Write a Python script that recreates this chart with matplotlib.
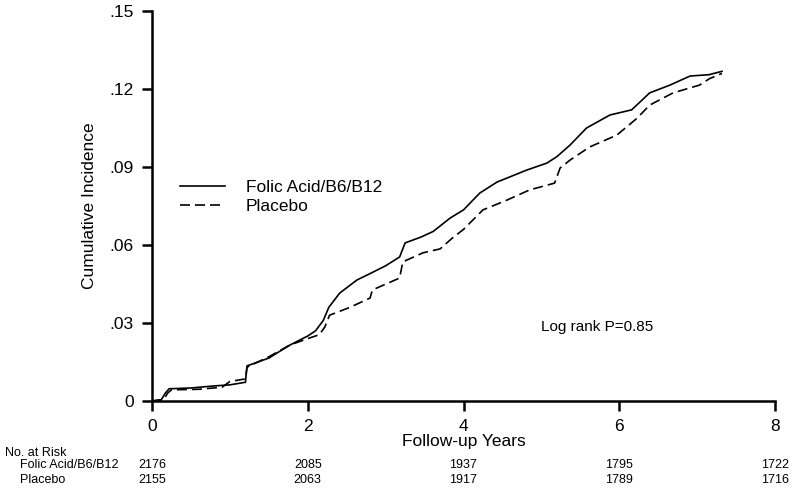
import matplotlib
matplotlib.use("Agg")
import matplotlib.pyplot as plt

plt.rcParams['font.family'] = ['Liberation Sans', 'DejaVu Sans']

# Cumulative incidence curves (years, incidence)
activeYears = [0, 0.12, 0.17, 0.22, 0.5, 0.8, 1.0, 1.2, 1.22, 1.5, 1.77, 2.0, 2.1, 2.2,
               2.27, 2.41, 2.63, 2.8, 3.0, 3.18, 3.25, 3.45, 3.61, 3.83, 4.0, 4.21, 4.43,
               4.81, 5.07, 5.2, 5.37, 5.58, 5.88, 6.16, 6.39, 6.65, 6.91, 7.15, 7.32]
activeInc = [0, 0.0005, 0.003, 0.0047, 0.005, 0.0058, 0.0062, 0.0072, 0.0135, 0.0165,
             0.0215, 0.025, 0.027, 0.031, 0.036, 0.0415, 0.0465, 0.049, 0.052, 0.0554,
             0.0608, 0.063, 0.0652, 0.0704, 0.0735, 0.080, 0.0842, 0.0888, 0.0915, 0.094,
             0.0985, 0.105, 0.110, 0.112, 0.1185, 0.1215, 0.125, 0.1255, 0.1268]

placeboYears = [0, 0.15, 0.2, 0.25, 0.6, 0.9, 1.0, 1.2, 1.22, 1.5, 1.77, 2.0, 2.15, 2.22,
                2.28, 2.54, 2.8, 2.83, 3.18, 3.22, 3.48, 3.7, 3.85, 4.0, 4.12, 4.25, 4.56,
                4.85, 5.17, 5.24, 5.37, 5.62, 5.97, 6.23, 6.39, 6.69, 7.03, 7.16, 7.32]
placeboInc = [0, 0.0005, 0.003, 0.0043, 0.0045, 0.0053, 0.0075, 0.0085, 0.013, 0.017,
              0.0215, 0.024, 0.0255, 0.0285, 0.033, 0.036, 0.0396, 0.0427, 0.0473, 0.0535,
              0.057, 0.0585, 0.0625, 0.066, 0.0696, 0.0735, 0.0773, 0.0812, 0.0838, 0.0896,
              0.0927, 0.0977, 0.1023, 0.1088, 0.1138, 0.1185, 0.1215, 0.124, 0.126]

# Number at risk table
riskYears = [0, 2, 4, 6, 8]
activeRisk = [2176, 2085, 1937, 1795, 1722]
placeboRisk = [2155, 2063, 1917, 1789, 1716]

yTicks = [0, 0.03, 0.06, 0.09, 0.12, 0.15]
yTickLabels = ["0", ".03", ".06", ".09", ".12", ".15"]
xTicks = [0, 2, 4, 6, 8]

fig = plt.figure(figsize=(8, 4.92), dpi=100)
ax = fig.add_axes([0.19, 0.185, 0.77875, 0.7926])

ax.plot(activeYears, activeInc, color="black", lw=1.2, label="Folic Acid/B6/B12")
ax.plot(placeboYears, placeboInc, color="black", lw=1.2, linestyle=(0, (6, 3)),
        label="Placebo")

ax.set_xlim(0, 8)
ax.set_ylim(0, 0.15)
ax.set_xticks(xTicks)
ax.set_yticks(yTicks)
ax.set_yticklabels(yTickLabels)
ax.spines["top"].set_visible(False)
ax.spines["right"].set_visible(False)
for s in ["left", "bottom"]:
    ax.spines[s].set_linewidth(1.8)
ax.tick_params(width=1.8, length=7, labelsize=12.5, pad=6)

ax.set_xlabel("Follow-up Years", fontsize=12.5, labelpad=0)
ax.set_ylabel("Cumulative Incidence", fontsize=12.5)
ax.yaxis.set_label_coords(-0.088, 0.5)

ax.legend(loc="upper left", bbox_to_anchor=(0.045, 0.568), frameon=False, fontsize=12.5,
          handlelength=2.6, handletextpad=1.2, labelspacing=0.25, borderpad=0,
          borderaxespad=0)

ax.text(5.0, 0.0285, "Log rank P=0.85", fontsize=11, va="center", ha="left")

# risk table below the axes
narrow = ['Liberation Sans Narrow', 'Liberation Sans']
fig.text(5 / 800, 1 - 453 / 492, "No. at Risk", fontsize=9, family=narrow, va="center")
fig.text(20 / 800, 1 - 465 / 492, "Folic Acid/B6/B12", fontsize=9, family=narrow, va="center")
fig.text(20 / 800, 1 - 480 / 492, "Placebo", fontsize=9, family=narrow, va="center")
for yr, a, p in zip(riskYears, activeRisk, placeboRisk):
    ax.annotate(str(a), xy=(yr, 0), xycoords=("data", "axes fraction"),
                xytext=(0, -(465 - 401)), textcoords="offset pixels",
                ha="center", va="center", fontsize=9, family=narrow)
    ax.annotate(str(p), xy=(yr, 0), xycoords=("data", "axes fraction"),
                xytext=(0, -(480 - 401)), textcoords="offset pixels",
                ha="center", va="center", fontsize=9, family=narrow)

fig.savefig("out.png", dpi=100)
